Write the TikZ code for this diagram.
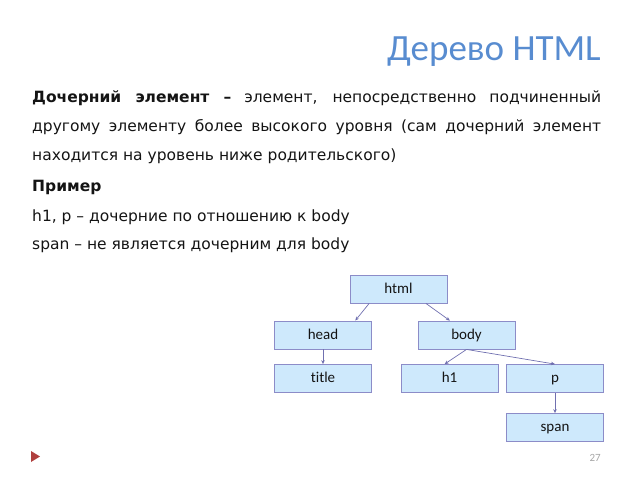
\documentclass[tikz,border=0pt]{standalone}
\usepackage{fontspec}
\setmainfont{DejaVu Sans}
\newfontfamily\boxf[Ligatures=NoCommon]{Carlito}
\newfontfamily\titlef{Carlito}
\usetikzlibrary{arrows.meta,calc}
\definecolor{titleblue}{RGB}{88,140,208}
\definecolor{boxfill}{RGB}{206,233,252}
\definecolor{boxline}{RGB}{140,140,200}
\definecolor{arrowc}{RGB}{112,112,176}
\definecolor{tri}{RGB}{176,64,62}
\definecolor{txt}{RGB}{20,20,20}
\tikzset{
  elem/.style={draw=boxline, fill=boxfill, line width=0.8pt, minimum width=97pt, minimum height=28pt, inner sep=0pt, text height=10pt, text depth=2pt, font=\boxf\fontsize{15}{17}\selectfont, text=txt},
  link/.style={draw=arrowc, line width=0.7pt, -{Stealth[length=4pt,width=3.5pt]}},
  line/.style={anchor=base west, inner sep=0pt, font=\fontsize{15.5}{18}\selectfont, text=txt}
}
\begin{document}
\begin{tikzpicture}[x=1pt,y=-1pt]
\useasboundingbox (0,0) rectangle (640,480);
\node[anchor=base east, inner sep=0pt, text=titleblue, font=\titlef\fontsize{37}{40}\selectfont] (ttl) at (601,60) {Дерево HTML};
\node[line] (l1) at (32,102) {\makebox[569pt][s]{\textbf{Дочерний элемент –} элемент, непосредственно подчиненный}};
\node[line] (l2) at (32,131.5) {\makebox[569pt][s]{другому элементу более высокого уровня (сам дочерний элемент}};
\node[line] (l3) at (32,160) {находится на уровень ниже родительского)};
\node[line] (l4) at (32,191) {\textbf{Пример}};
\node[line] (l5) at (32,221) {h1, p – дочерние по отношению к body};
\node[line] (l6) at (32,249) {span – не является дочерним для body};

\node[elem] (html) at (398.5,289) {html};
\node[elem] (head) at (323,335) {head};
\node[elem] (body) at (466.5,335) {body};
\node[elem] (title) at (323,378.5) {title};
\node[elem] (h1) at (449.5,378.5) {h1};
\node[elem] (p) at (555,378.5) {p};
\node[elem] (span) at (555,427.5) {span};

\draw[link] ($(html.south west)!0.2!(html.south east)$) -- ($(head.north west)!0.83!(head.north east)$);
\draw[link] ($(html.south west)!0.78!(html.south east)$) -- ($(body.north west)!0.33!(body.north east)$);
\draw[link] (head.south) -- (title.north);
\draw[link] (body.south) -- ($(h1.north west)!0.45!(h1.north east)$);
\draw[link] (body.south) -- (p.north);
\draw[link] (p.south) -- (span.north);

\fill[tri] (31,451) -- (40,456.5) -- (31,462) -- cycle;
\node[anchor=base east, inner sep=0pt, text=gray!70, font=\boxf\fontsize{11}{13}\selectfont] (pg) at (601,461.5) {27};
\end{tikzpicture}
\end{document}
